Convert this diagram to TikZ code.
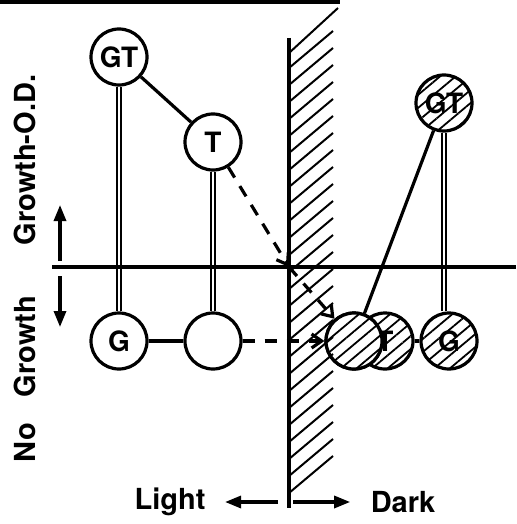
\documentclass[tikz,border=0pt]{standalone}
\usepackage{fontspec}
\setmainfont{TeX Gyre Heros}
\usetikzlibrary{arrows.meta,patterns.meta}

\begin{document}
\begin{tikzpicture}[
  x=0.5pt,y=-0.5pt,
  line width=1.6pt,
  % open circle = one strain; hatched circle = the same strain kept in the dark
  cell/.style={circle,draw,fill=white,minimum size=28pt,inner sep=0pt,
               font=\fontsize{14}{16}\selectfont\bfseries},
  hatch/.style={pattern={Lines[angle=40,distance=5pt,line width=0.9pt]}},
  link/.style={double,double distance=1.1pt,line width=0.9pt},
  shiftline/.style={dash pattern=on 6pt off 5pt,-{Straight Barb[length=5pt,width=7pt]}},
  tip/.style={-{Triangle[length=8pt,width=6pt]}},
  lbl/.style={font=\fontsize{14.5}{16}\selectfont\bfseries,inner sep=0pt},
]
\useasboundingbox (0,0) rectangle (516,524);

%--- frame pieces -------------------------------------------------------------
\draw[line width=2pt] (0,2) -- (340,2);
\coordinate (cross) at (289,267);   % wall meets the axis

%--- light side --------------------------------------------------------------
\node[cell] (gt) at (119,57) {GT};
\node[cell] (t) at (213,142) {T};
\node[cell] (g) at (119,341) {G};
\node[cell] (e) at (213,341) {};

\draw[link] (gt) -- (g);
\draw[link] (t) -- (e);
\draw (gt) -- (t);
\draw (g) -- (e);

%--- dark side (hatched) ------------------------------------------------------
\node[cell] (gtd) at (444,103) {GT};
\node[cell] (td) at (385,341) {T};
\node[cell] (big) at (354,341) {};
\node[cell] (gd) at (449,341) {G};
\fill[hatch] (gtd.center) circle (14pt);
\fill[hatch] (gd.center) circle (14pt);
\fill[hatch] (td.center) circle (14pt);
\draw[fill=white] (big.center) circle (14pt);
\fill[hatch] (big.center) circle (14pt);

\draw[link] (gtd.south) -- (gtd.south |- gd.north);
\draw (gtd) -- (big);
\draw (td) -- (gd);

%--- axis and the wall between light and dark ---------------------------------
\draw (52,267) -- (516,267);
\draw (289,38) -- (289,508);
\draw[line width=1pt] (289,53) -- (338,8);
\foreach \y in {68,85,...,495}
  \draw[line width=1pt] (289,\y) -- ++(44,-37);

%--- shift into the dark ------------------------------------------------------
\draw[shiftline] (t) -- (cross);
\draw[shiftline] (cross) -- (big);
\draw[shiftline] (e) -- (big);

%--- side labels --------------------------------------------------------------
\node[lbl,rotate=90] (grow) at (25,160) {Growth-O.D.};
\node[lbl,rotate=90] (nogrow) at (25,379) {No\hspace{0.9em}Growth};
\coordinate (updown) at (60,267);
\draw[tip] (updown) ++(0,-6) -- ++(0,-56);
\draw[tip] (updown) ++(0,9) -- ++(0,51);

%--- bottom labels ------------------------------------------------------------
\node[lbl] (light) at (170,502) {Light};
\node[lbl] (dark) at (403,502) {Dark};
\coordinate (foot) at (289,502);
\draw[tip,shorten >=9pt] (foot) ++(-11,0) -- (light.east);
\draw[tip,shorten >=9.5pt] (foot) ++(4,0) -- (dark.west);

\end{tikzpicture}
\end{document}
